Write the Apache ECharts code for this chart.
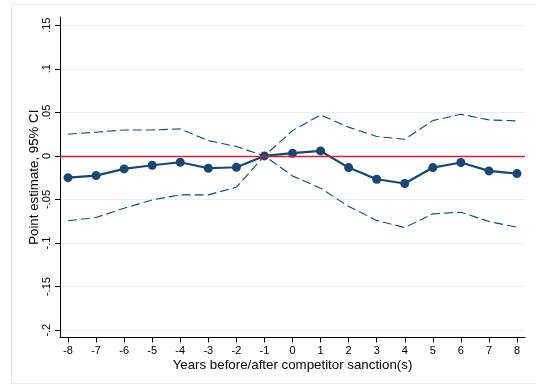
<!DOCTYPE html>
<html>
<head>
<meta charset="utf-8">
<script src="https://cdn.jsdelivr.net/npm/echarts@6/dist/echarts.min.js"></script>
<style>html,body{margin:0;padding:0;background:#fff;}#c{width:536px;height:387px;}</style>
</head>
<body>
<div id="c"></div>
<script>
const years = [-8,-7,-6,-5,-4,-3,-2,-1,0,1,2,3,4,5,6,7,8];
const estimate = [-0.025,-0.0226,-0.0149,-0.0107,-0.0073,-0.0142,-0.013,0,0.0031,0.0057,-0.0134,-0.0268,-0.0317,-0.0134,-0.0076,-0.0172,-0.0203];
const upperCI = [0.0249,0.0272,0.0298,0.0298,0.031,0.0176,0.0107,0,0.029,0.047,0.033,0.0222,0.0191,0.0405,0.0478,0.0413,0.0401];
const lowerCI = [-0.0745,-0.0707,-0.06,-0.0505,-0.0447,-0.0447,-0.0359,0,-0.023,-0.037,-0.058,-0.074,-0.0822,-0.0665,-0.0646,-0.0753,-0.0818];
const yTicks = [-0.2,-0.15,-0.1,-0.05,0,0.05,0.1,0.15];
const yTickLabels = ['-.2','-.15','-.1','-.05','0','.05','.1','.15'];
const xTickLabels = years.map(String);

const navy = '#1a476f';
const font = 'Liberation Sans, Arial, sans-serif';
const chart = echarts.init(document.getElementById('c'), null, {renderer:'canvas'});
const pair = arr => years.map((x,i)=>[x, arr[i]]);
chart.setOption({
  animation:false,
  backgroundColor:'#fff',
  graphic:[{type:'rect', shape:{x:11.5,y:4.5,width:600,height:379}, style:{fill:'none', stroke:'#e6eef1', lineWidth:1}, z:-10}],
  grid:{left:60, right:11, top:17, bottom:49.5},
  xAxis:{
    type:'value', min:-8.285, max:8.285,
    name:'Years before/after competitor sanction(s)', nameLocation:'middle', nameGap:21, nameMoveOverlap:false,
    nameTextStyle:{fontFamily:font, fontSize:13.3, color:'#000'},
    axisLine:{show:true, onZero:false, lineStyle:{color:'#000', width:1}},
    axisTick:{show:true, length:5, lineStyle:{color:'#000'}, customValues:years},
    axisLabel:{fontFamily:font, fontSize:11, color:'#000', margin:8, customValues:years, formatter:v=>xTickLabels[years.indexOf(Math.round(v))]},
    splitLine:{show:false}
  },
  yAxis:{
    type:'value', min:-0.2084, max:0.1594,
    name:'Point estimate, 95% CI', nameLocation:'middle', nameGap:19, nameRotate:90, nameMoveOverlap:false,
    nameTextStyle:{fontFamily:font, fontSize:13.3, color:'#000'},
    axisLine:{show:true, onZero:false, lineStyle:{color:'#000', width:1}},
    axisTick:{show:true, length:5, lineStyle:{color:'#000'}, customValues:yTicks},
    axisLabel:{fontFamily:font, fontSize:11, color:'#000', margin:8, rotate:90, customValues:yTicks,
      formatter:v=>{const i=yTicks.findIndex(t=>Math.abs(t-v)<1e-6);return i>=0?yTickLabels[i]:'';}},
    splitLine:{show:true, lineStyle:{color:'#e6eef1', width:1}}
  },
  series:[
    {type:'line', data:[], z:1, markLine:{silent:true, symbol:'none', label:{show:false},
      lineStyle:{color:'#dc1c3c', width:1.3, type:'solid'}, data:[{yAxis:0}]}},
    {type:'line', data:pair(upperCI), symbol:'none', z:2, lineStyle:{color:navy, width:1.1, type:[9,4]}},
    {type:'line', data:pair(lowerCI), symbol:'none', z:2, lineStyle:{color:navy, width:1.1, type:[9,4]}},
    {type:'line', data:pair(estimate), symbol:'circle', symbolSize:9, z:3,
      itemStyle:{color:navy}, lineStyle:{color:navy, width:2.2}}
  ]
});
</script>
</body>
</html>
